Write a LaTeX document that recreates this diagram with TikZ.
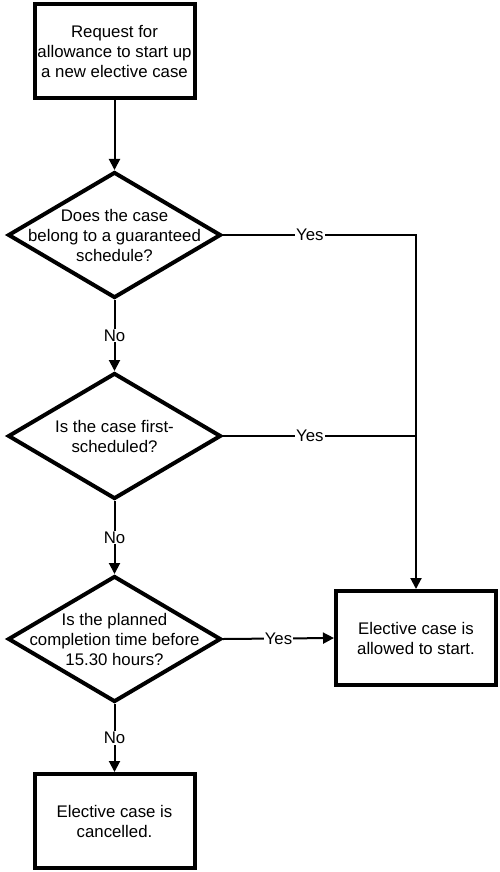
\documentclass[tikz,border=0pt]{standalone}
\usepackage{fontspec}
\setmainfont{Liberation Sans}
\usetikzlibrary{shapes.geometric,arrows.meta}
\begin{document}
\begin{tikzpicture}[x=1pt,y=-1pt,
  font=\fontsize{16.8}{20}\selectfont,
  procbox/.style={draw, line width=4pt, minimum width=160pt, minimum height=94pt,
    inner sep=0pt, align=center},
  decision/.style={draw, diamond, line width=4pt, minimum width=213pt,
    minimum height=126pt, inner sep=0pt},
  qtext/.style={align=center, inner sep=0pt},
  flow/.style={line width=2pt, -{Triangle[length=11pt,width=11pt]}},
  link/.style={line width=2pt},
  tag/.style={fill=white, inner xsep=1pt, inner ysep=1pt}
]
\useasboundingbox (0,0) rectangle (500,872);

% process boxes
\node[procbox] (req) at (114.5,51.5) {Request for\\allowance to start up\\a new elective case};
\node[procbox] (allow) at (416,638) {Elective case is\\allowed to start.};
\node[procbox] (cancel) at (114.5,821) {Elective case is\\cancelled.};

% decisions
\node[decision] (d1) at (114.5,235) {};
\node[qtext] (d1t) at (d1.center) {Does the case\\belong to a guaranteed\\schedule?};
\node[decision] (d2) at (114.5,436) {};
\node[qtext] (d2t) at (d2.center) {Is the case first-\\scheduled?};
\node[decision] (d3) at (114.5,639) {};
\node[qtext] (d3t) at (d3.center) {Is the planned\\completion time before\\15.30 hours?};

% junctions on the collecting line
\coordinate (j1) at (416,235);
\coordinate (j2) at (416,436);

% connectors
\draw[flow] (req) -- (d1);
\draw[flow] (d1) -- node[tag] {No} (d2);
\draw[flow] (d2) -- node[tag] {No} (d3);
\draw[flow] (d3) -- node[tag] {No} (cancel);
\draw[flow] (d1.east) -- node[tag, pos=0.45] {Yes} (j1) -- (allow.north);
\draw[link] (d2.east) -- node[tag, pos=0.45] {Yes} (j2);
\draw[flow] (d3.east) -- node[tag] {Yes} (allow.west);
\end{tikzpicture}
\end{document}
